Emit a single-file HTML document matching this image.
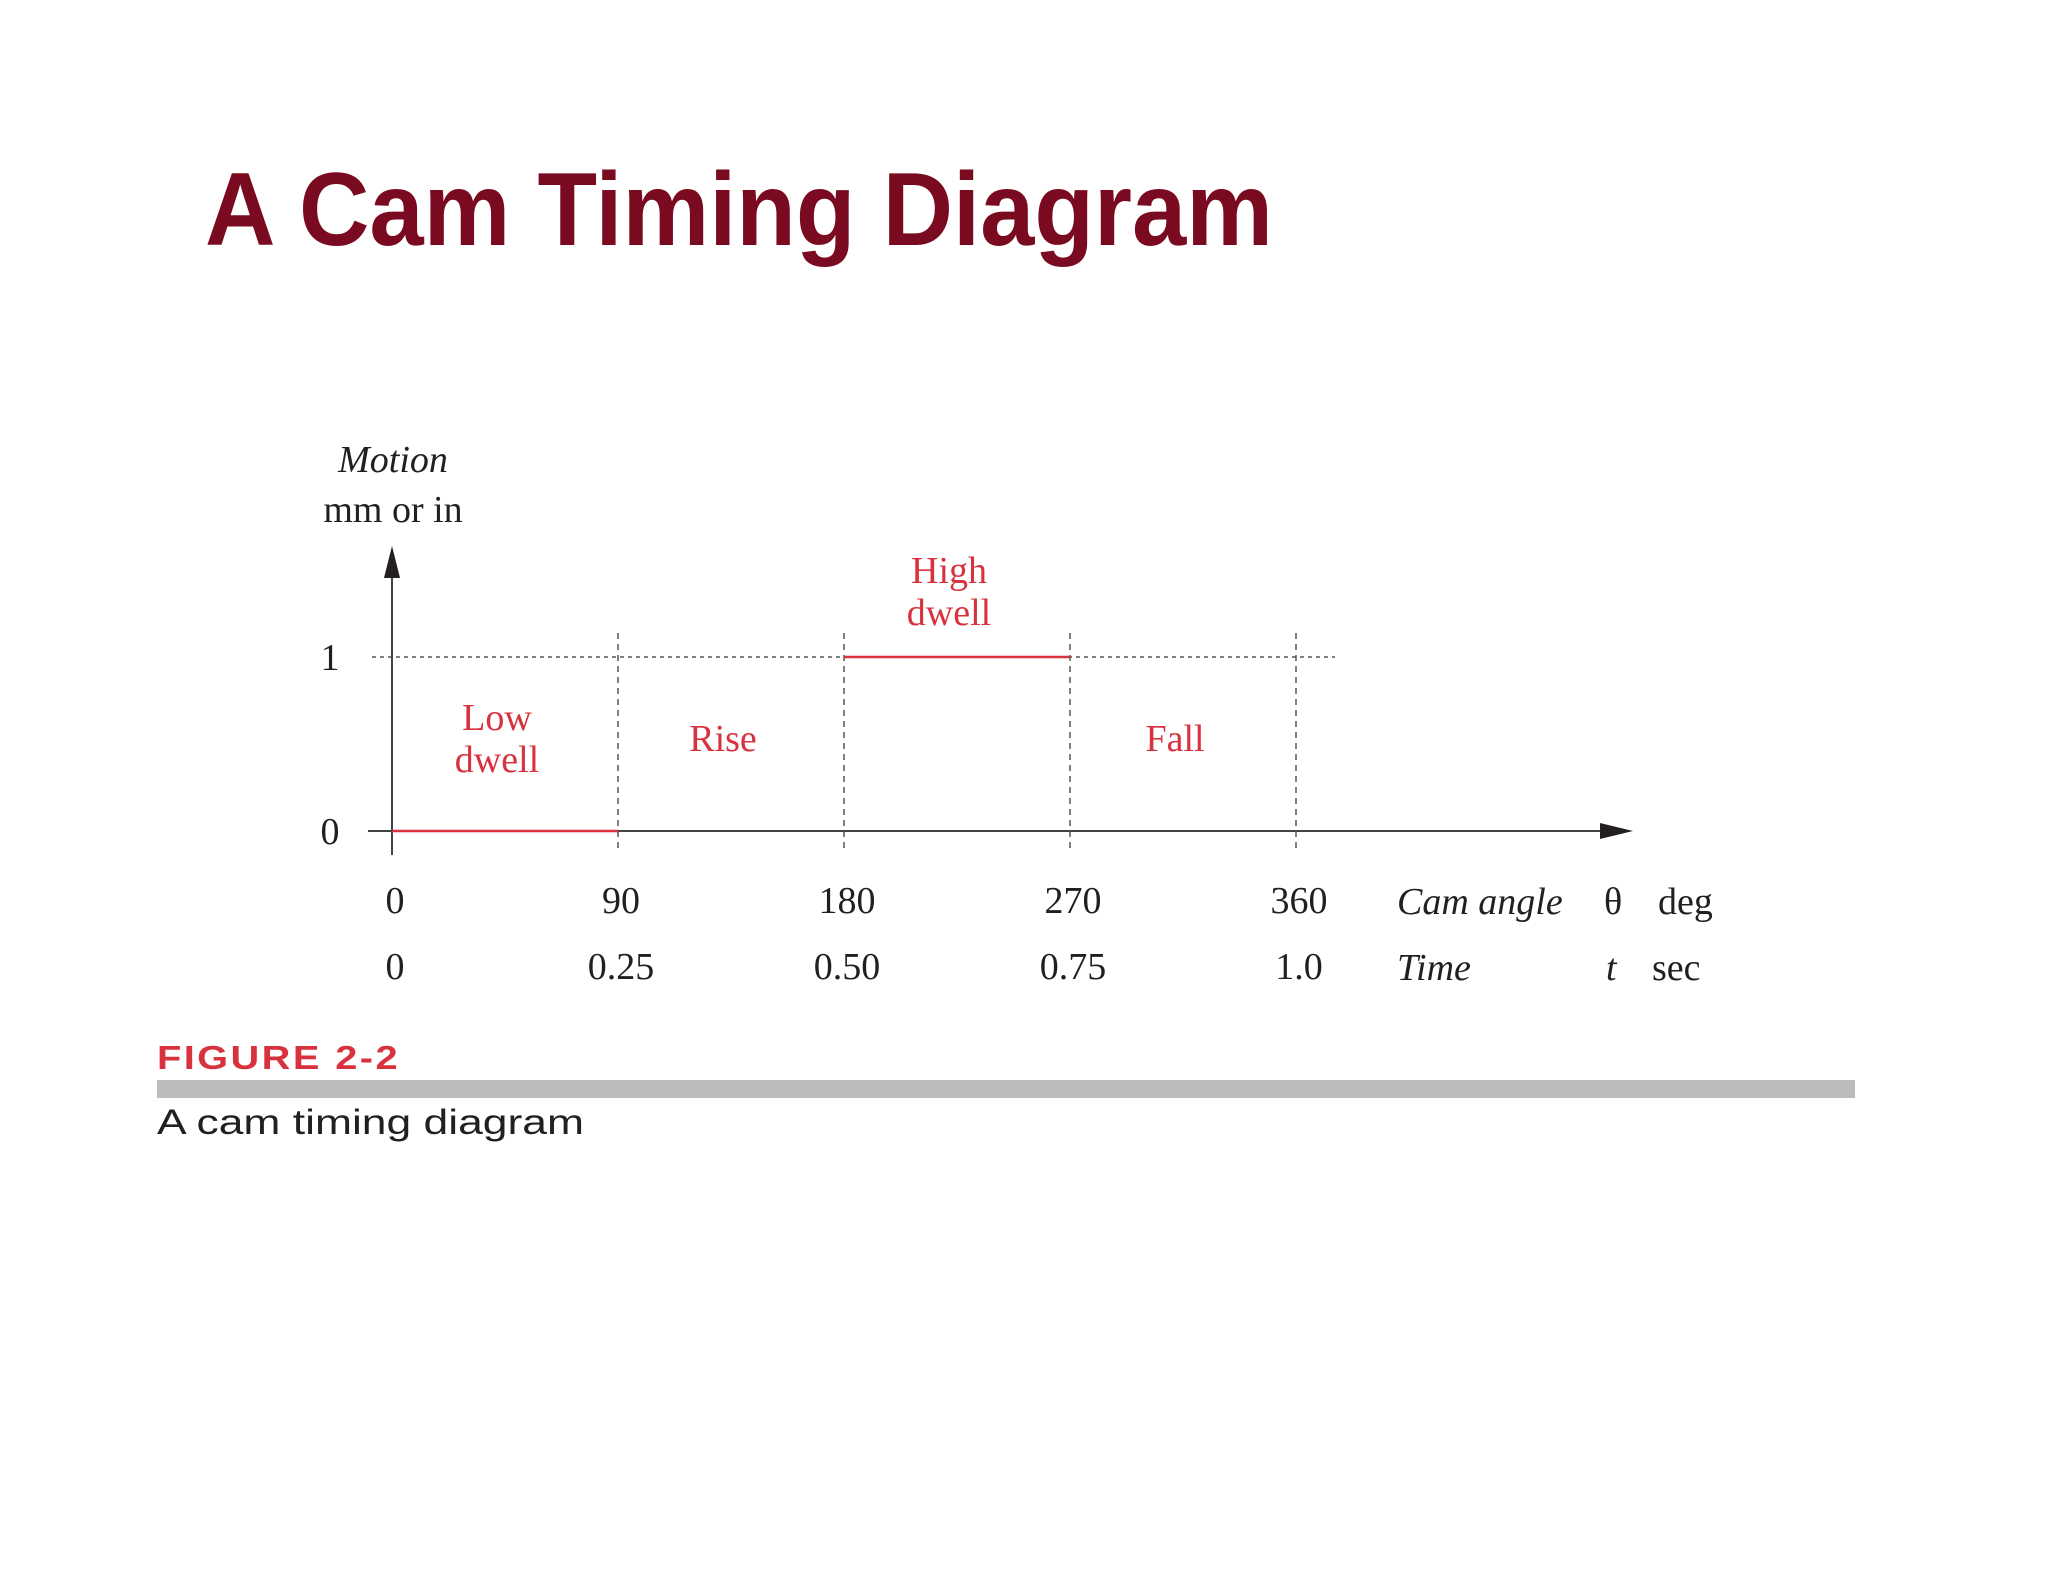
<!DOCTYPE html>
<html><head><meta charset="utf-8"><style>
html,body{margin:0;padding:0;background:#fff;}
svg{display:block;}
.s{font-family:"Liberation Serif",serif;font-size:38px;fill:#231f20;}
.r{font-family:"Liberation Serif",serif;font-size:38px;fill:#d8323f;}
</style></head><body>
<svg id="c" width="2048" height="1582" viewBox="0 0 2048 1582">
<text x="205" y="245" font-family="Liberation Sans,sans-serif" font-weight="bold" font-size="104" fill="#7a0a1f" textLength="1068" lengthAdjust="spacingAndGlyphs">A Cam Timing Diagram</text>
<g id="plot"></g>
<text x="157" y="1069" font-family="Liberation Sans,sans-serif" font-weight="bold" font-size="33" fill="#d8323f" letter-spacing="2" textLength="243" lengthAdjust="spacingAndGlyphs">FIGURE 2-2</text>
<rect x="157" y="1080" width="1698" height="18" fill="#bcbcbe"/>
<text x="157" y="1134" font-family="Liberation Sans,sans-serif" font-size="35" fill="#231f20" textLength="427" lengthAdjust="spacingAndGlyphs">A cam timing diagram</text>
</svg>
<script>
const angleTicks=["0","90","180","270","360"];
const timeTicks=["0","0.25","0.50","0.75","1.0"];
const angleValues=[0,90,180,270,360];
const segStart=[0,90,180,270];
const segEnd=[90,180,270,360];
const segLevel=[0,null,1,null];
const segLabels=[["Low","dwell"],["Rise"],["High","dwell"],["Fall"]];
const yTicks=[0,1];
const NS="http://www.w3.org/2000/svg";
const g=document.getElementById('plot');
const X=a=>392+a*(1296-392)/360;
const Y=v=>831-v*(831-657);
function mk(t,at,parent){const e=document.createElementNS(NS,t);for(const k in at)e.setAttribute(k,at[k]);(parent||g).appendChild(e);return e;}
let e;
e=mk('line',{x1:372,y1:Y(1),x2:1335,y2:Y(1),stroke:'#555','stroke-width':1.5,'stroke-dasharray':'4 4'});


angleValues.slice(1).forEach((a,i)=>{
 e=mk('line',{x1:X(a),y1:633,x2:X(a),y2:849,stroke:'#555','stroke-width':1.5,'stroke-dasharray':'6 5'});
 
 
});
e=mk('line',{x1:368,y1:Y(0),x2:1600,y2:Y(0),stroke:'#444','stroke-width':2});


e=mk('polygon',{points:`1633,${Y(0)} 1600,${Y(0)-8} 1600,${Y(0)+8}`,fill:'#231f20'});


e=mk('line',{x1:392,y1:575,x2:392,y2:855,stroke:'#444','stroke-width':2});


e=mk('polygon',{points:`392,546 384,578 400,578`,fill:'#231f20'});


segLevel.forEach((lv,i)=>{
 if(lv===null)return;
 e=mk('line',{x1:X(segStart[i]),y1:Y(lv),x2:X(segEnd[i]),y2:Y(lv),stroke:'#d8323f','stroke-width':2.5});
 
 
});
segLabels.forEach((lines,i)=>{
 const cx=(X(segStart[i])+X(segEnd[i]))/2-8;
 const baseY=i===2?583:(lines.length===2?730:751);
 lines.forEach((t,j)=>{
  e=mk('text',{x:cx,y:baseY+j*42,'text-anchor':'middle',class:'r'});
  e.textContent=t;
  
  
 });
});
yTicks.forEach(v=>{
 e=mk('text',{x:330,y:Y(v)+13,'text-anchor':'middle',class:'s'});
 e.textContent=String(v);
 
 
});
angleValues.forEach((a,i)=>{
 e=mk('text',{x:X(a)+3,y:913,'text-anchor':'middle',class:'s'});
 e.textContent=angleTicks[i];
 
 
 e=mk('text',{x:X(a)+3,y:979,'text-anchor':'middle',class:'s'});
 e.textContent=timeTicks[i];
 
 
});
function lab(x,y,t,name,it,anchor){e=mk('text',{x:x,y:y,class:'s','text-anchor':anchor||'start'});if(it)e.setAttribute('font-style','italic');e.textContent=t;
 
 }
lab(393,472,'Motion','y-axis-title',true,'middle');
lab(393,522,'mm or in','y-axis-unit',false,'middle');
lab(1397,914,'Cam angle','x-axis-angle-title',true);
lab(1604,914,'θ','x-axis-angle-symbol',false);
lab(1658,914,'deg','x-axis-angle-unit',false);
lab(1397,980,'Time','x-axis-time-title',true);
lab(1606,980,'t','x-axis-time-symbol',true);
lab(1652,980,'sec','x-axis-time-unit',false);
</script>
</body></html>
